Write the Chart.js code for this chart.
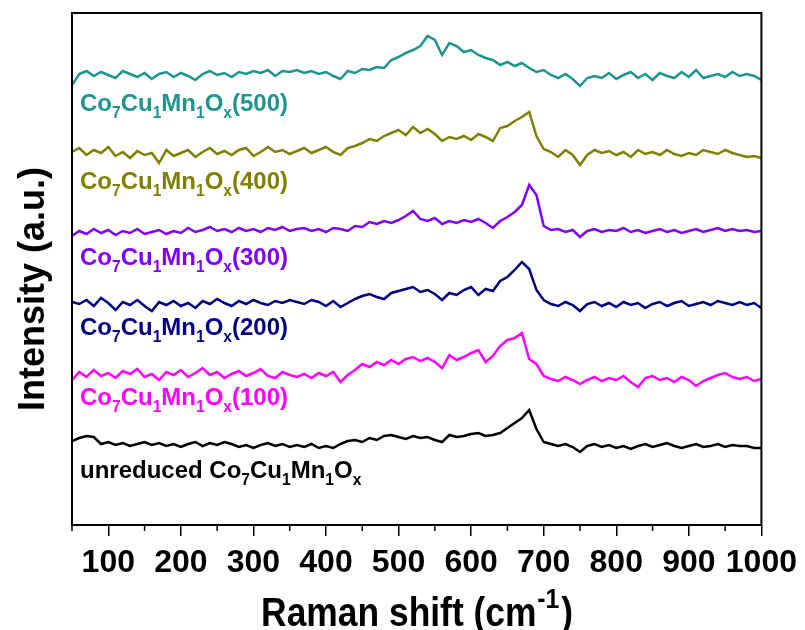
<!DOCTYPE html>
<html>
<head>
<meta charset="utf-8">
<script src="https://cdn.jsdelivr.net/npm/chart.js@4.4.1/dist/chart.umd.min.js"></script>
<style>
  html, body { margin: 0; padding: 0; background: #fff; }
  canvas { display: block; }
</style>
</head>
<body>
<canvas id="c" width="805" height="630"></canvas>
<script>
// Raman shift (cm-1)
const ramanShift = [50,60,70,80,90,100,110,120,130,140,150,160,170,180,190,200,210,220,230,240,250,260,270,280,290,300,310,320,330,340,350,360,370,380,390,400,410,420,430,440,450,460,470,480,490,500,510,520,530,540,550,560,570,580,590,600,610,620,630,640,650,660,670,680,690,700,710,720,730,740,750,760,770,780,790,800,810,820,830,840,850,860,870,880,890,900,910,920,930,940,950,960,970,980,990,1000];

// Stacked intensities (a.u., offset for display)
const int500 = [440,451,454,449,453,450,447,454,451,448, 452,446,451,453,448,452,449,445,451,454, 450,452,448,453,451,454,452,455,449,454, 453,455,452,454,451,453,449,446,454,452, 456,455,458,457,465,468,472,475,479,489, 485,470,482,479,473,475,470,467,465,460, 463,459,462,457,453,455, 450,447,451,446,439,447,449,447,452,446, 450,453,447,451,445,452,449,447,453,448, 455,447,449,451,448,453,449,451,449,445];
const int400 = [373,377,370,375,372,378,369,373,367,374, 370,372,362,375,369,372,375,368,373,377, 371,374,370,375,377,369,373,378,373,375, 371,374,377,372,375,378,373,370,377,379, 382,386,384,389,392,395,390,398,392,396, 391,384,388,386,389,385,391,388,384,397, 399,404,408,413,389, 376,373,368,375,370,360,370,375,372,374,370,373,368,375,371,373,370,375,371,369,372,370,375,373,371,375,372,370,368,369,367];
const int300 = [289,294,291,296,292,295,290,294,292,296, 291,293,295,291,294,292,297,293,295,298, 294,296,293,297,294,296,293,297,295,298, 294,296,297,294,296,293,297,296,294,299, 298,303,301,304,302,305,309,314,306,304, 307,301,304,302,305,303,306,302,297,304, 308,313,320,340,330, 299,295,296,293,295,288,294,296,293,295,294,297,293,295,292,294,296,293,295,292,294,296,293,295,297,294,296,294,295,293,294];
const int200 = [223,221,225,219,227,222,215,223,220,225, 219,214,223,220,224,219,222,217,224,221, 226,222,219,224,221,225,222,220,224,222, 225,223,221,225,223,219,224,218,222,226, 229,231,228,226,232,234,236,238,233,235, 231,225,232,230,235,238,230,236,234,244, 248,255,263,256,235, 225,221,219,223,220,214,221,223,219,222,218,223,220,222,217,221,223,219,222,224,219,221,223,220,224,222,220,223,220,222,217];
const int100 = [145,153,148,155,149,152,147,154,151,156, 148,151,145,153,150,155,148,152,157,150, 153,147,151,154,149,152,156,149,147,153, 150,148,151,147,152,149,153,143,150,155, 161,158,163,160,165,161,166,168,164,167, 163,157,170,165,168,172,175,163,169,179, 185,187,192,166,161, 149,146,144,148,145,141,145,148,144,147,145,149,143,138,147,149,145,147,143,148,145,139,144,147,150,152,148,146,148,144,146];
const intUnreduced = [84,87,89,88,81,83,80,82,79,81, 83,80,82,79,81,78,81,83,79,82, 80,83,81,78,80,77,80,82,79,81, 78,80,78,81,77,79,77,81,84,85, 83,87,85,89,90,88,86,89,87,88, 85,83,90,88,89,91,92,89,90,92, 97,102,107,115,96, 83,81,79,81,78,73,79,81,78,80,77,79,76,79,81,78,80,82,79,77,79,81,78,79,81,78,80,79,79,77,77];

const seriesNames = ['Co_7Cu_1Mn_1O_x(500)','Co_7Cu_1Mn_1O_x(400)','Co_7Cu_1Mn_1O_x(300)','Co_7Cu_1Mn_1O_x(200)','Co_7Cu_1Mn_1O_x(100)','unreduced Co_7Cu_1Mn_1O_x'];
const xTickLabels = [100,200,300,400,500,600,700,800,900,1000];
const xMinorTicks = [50,150,250,350,450,550,650,750,850,950];

const seriesData = [int500, int400, int300, int200, int100, intUnreduced];
const seriesColors = ['#1e9590','#808000','#8000ff','#000080','#ff00ff','#000000'];
// label anchors (data coords: x in cm-1, y baseline in a.u.)
const labelX = 61;
const labelY = [414, 336, 260, 190, 120, 47];

const SANS = "'Liberation Sans', Arial, sans-serif";

function drawFormula(ctx, text, x, y, size, color) {
  ctx.fillStyle = color;
  ctx.textAlign = 'left';
  ctx.textBaseline = 'alphabetic';
  let cx = x;
  let i = 0;
  while (i < text.length) {
    let sub = false, t;
    if (text[i] === '_') { sub = true; t = text[i + 1]; i += 2; }
    else {
      let j = i;
      while (j < text.length && text[j] !== '_') j++;
      t = text.slice(i, j); i = j;
    }
    const fs = sub ? size * 0.65 : size;
    ctx.font = `bold ${fs}px ${SANS}`;
    ctx.fillText(t, cx, y + (sub ? size * 0.3 : 0));
    cx += ctx.measureText(t).width;
  }
}

const decor = {
  id: 'decor',
  afterDraw(chart) {
    const { ctx, chartArea: a, scales: { x, y } } = chart;
    ctx.save();
    // minor ticks
    ctx.strokeStyle = '#000';
    ctx.lineWidth = 1.5;
    xMinorTicks.forEach(v => {
      const px = x.getPixelForValue(v);
      ctx.beginPath();
      ctx.moveTo(px, a.bottom);
      ctx.lineTo(px, a.bottom + 6);
      ctx.stroke();
    });
    // frame
    ctx.lineWidth = 2;
    ctx.strokeRect(a.left, a.top, a.right - a.left, a.bottom - a.top);
    // series labels
    seriesNames.forEach((n, k) => {
      drawFormula(ctx, n, x.getPixelForValue(labelX), y.getPixelForValue(labelY[k]), 24, seriesColors[k]);
    });
    // y title
    ctx.save();
    ctx.translate(34, 289);
    ctx.rotate(-Math.PI / 2);
    ctx.fillStyle = '#000';
    ctx.font = `bold 36px ${SANS}`;
    ctx.textAlign = 'center';
    ctx.textBaseline = 'middle';
    ctx.fillText('Intensity (a.u.)', 0, 0);
    ctx.restore();
    // x title with superscript (condensed)
    const main = 'Raman shift (cm', sup = '-1', end = ')';
    ctx.save();
    ctx.translate(417, 626);
    ctx.scale(0.885, 1);
    ctx.fillStyle = '#000';
    ctx.textAlign = 'left';
    ctx.textBaseline = 'alphabetic';
    ctx.font = `bold 40px ${SANS}`;
    const w1 = ctx.measureText(main).width, w3 = ctx.measureText(end).width;
    ctx.font = `bold 28px ${SANS}`;
    const w2 = ctx.measureText(sup).width;
    const sx = -(w1 + w2 + w3 + 3) / 2;
    ctx.font = `bold 40px ${SANS}`;
    ctx.fillText(main, sx, 0);
    ctx.font = `bold 28px ${SANS}`;
    ctx.fillText(sup, sx + w1 + 1, -18);
    ctx.font = `bold 40px ${SANS}`;
    ctx.fillText(end, sx + w1 + w2 + 3, 0);
    ctx.restore();
    ctx.restore();
  }
};

new Chart(document.getElementById('c'), {
  type: 'line',
  data: {
    datasets: seriesData.map((d, k) => ({
      label: seriesNames[k],
      data: d.map((v, i) => ({ x: ramanShift[i], y: v })),
      borderColor: seriesColors[k],
      borderWidth: 2.5,
      pointRadius: 0,
      tension: 0,
      fill: false
    }))
  },
  options: {
    responsive: false,
    devicePixelRatio: 1,
    animation: false,
    layout: { padding: { left: 0, right: 43, top: 13, bottom: 0 } },
    plugins: { legend: { display: false }, tooltip: { enabled: false } },
    scales: {
      x: {
        type: 'linear',
        position: 'bottom',
        min: 50,
        max: 1000,
        afterBuildTicks: s => { s.ticks = xTickLabels.map(v => ({ value: v })); },
        afterFit: s => { s.height = 105; },
        ticks: {
          autoSkip: false,
          maxRotation: 0,
          color: '#000',
          padding: 8,
          font: { family: SANS, size: 32, weight: 'bold' },
          callback: v => String(v)
        },
        grid: { drawOnChartArea: false, drawTicks: true, tickLength: 11, color: '#000', lineWidth: 1.5 },
        border: { display: false }
      },
      y: {
        type: 'linear',
        min: 0,
        max: 512,
        afterFit: s => { s.width = 72; },
        ticks: { display: false },
        grid: { display: false },
        border: { display: false }
      }
    }
  },
  plugins: [decor]
});
</script>
</body>
</html>
